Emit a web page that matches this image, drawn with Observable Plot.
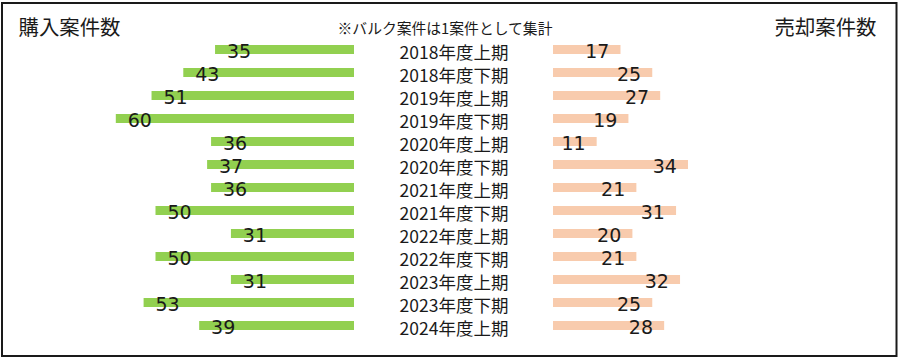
<!DOCTYPE html>
<html>
<head>
<meta charset="utf-8">
<script src="https://cdn.jsdelivr.net/npm/d3@7"></script>
<script src="https://cdn.jsdelivr.net/npm/@observablehq/plot@0.6"></script>
<style>
  html, body { margin: 0; padding: 0; background: #fff; }
  #chart svg { display: block; }
</style>
</head>
<body>
<div id="chart"></div>
<script>
// ---- data ----
const periods = [
  "2018年度上期", "2018年度下期", "2019年度上期", "2019年度下期",
  "2020年度上期", "2020年度下期", "2021年度上期", "2021年度下期",
  "2022年度上期", "2022年度下期", "2023年度上期", "2023年度下期",
  "2024年度上期"
];
const purchases = [35, 43, 51, 60, 36, 37, 36, 50, 31, 50, 31, 53, 39];
const sales = [17, 25, 27, 19, 11, 34, 21, 31, 20, 21, 32, 25, 28];
const leftTitle = "購入案件数";
const rightTitle = "売却案件数";
const note = "※バルク案件は1案件として集計";

// ---- layout ----
const W = 900, H = 361;
const pxPerUnit = 3.97;
const center = 453.5;   // pixel position of the gap centre
const half = 99.5;      // half-width of the central label gap
const green = "#92D050";
const peach = "#F8CBAD";
const ink = "#1a1a1a";
const font = "'DejaVu Sans', 'Noto Sans CJK JP', sans-serif";
const cjk = "'Noto Sans CJK JP', sans-serif";

const rows = periods.map((p, i) => ({period: p, buy: purchases[i], sell: sales[i]}));

const chart = Plot.plot({
  width: W,
  height: H,
  margin: 0,
  style: {fontFamily: font, background: "#fff", color: ink},
  x: {domain: [-center / pxPerUnit, (W - center) / pxPerUnit], range: [0, W], axis: null},
  y: {type: "band", domain: periods, range: [37.1, 337.9], paddingInner: 0.6, paddingOuter: 0.2, axis: null},
  marks: [
    Plot.frame({stroke: ink, strokeWidth: 2, insetLeft: 1.5, insetTop: 2.5, insetRight: 4, insetBottom: 5.5}),
    // left (purchase) bars
    Plot.barX(rows, {y: "period", x1: d => -d.buy, x2: 0, dx: -half, fill: green}),
    // right (sale) bars
    Plot.barX(rows, {y: "period", x1: 0, x2: "sell", dx: half, fill: peach}),
    // value labels
    Plot.text(rows, {y: "period", x: d => -d.buy, text: d => String(d.buy), dx: -half + 23.5, dy: 1.5,
      fontSize: 19, fill: ink, textAnchor: "middle", lineAnchor: "middle", fontFamily: font}),
    Plot.text(rows, {y: "period", x: "sell", text: d => String(d.sell), dx: half - 23.7, dy: 1.5,
      fontSize: 19, fill: ink, textAnchor: "middle", lineAnchor: "middle", fontFamily: font}),
    // period labels in the middle
    Plot.text(rows, {y: "period", x: 0, text: "period", fontSize: 17.5, fill: ink, dy: 3,
      textAnchor: "middle", lineAnchor: "middle", fontFamily: cjk}),
    // titles
    Plot.text([leftTitle], {frameAnchor: "top-left", text: d => d, dx: 18, dy: 28, fontSize: 20.4,
      textAnchor: "start", lineAnchor: "middle", fill: ink, fontFamily: cjk}),
    Plot.text([rightTitle], {frameAnchor: "top-right", text: d => d, dx: -24, dy: 28, fontSize: 20.4,
      textAnchor: "end", lineAnchor: "middle", fill: ink, fontFamily: cjk}),
    Plot.text([note], {frameAnchor: "top", text: d => d, dx: -5.5, dy: 29, fontSize: 14.8,
      textAnchor: "middle", lineAnchor: "middle", fill: ink, fontFamily: cjk})
  ]
});
document.getElementById("chart").appendChild(chart);
</script>
</body>
</html>
